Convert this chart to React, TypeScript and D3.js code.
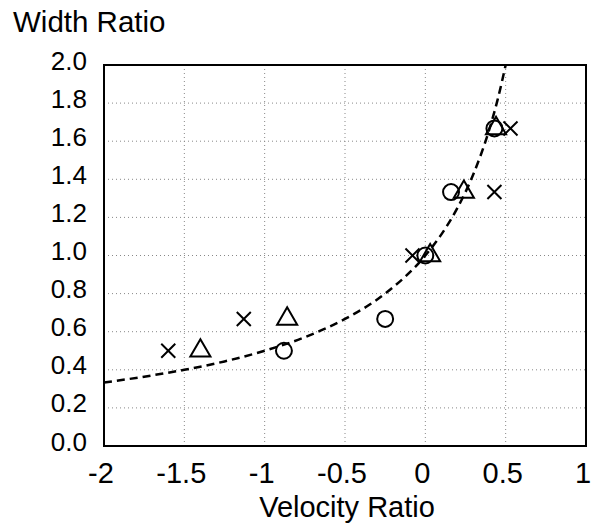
import React, { useEffect, useRef } from 'react';
import * as d3 from 'd3';

const crossX = [-1.6, -1.13, -0.08, 0.43, 0.53];
const crossY = [0.5, 0.667, 1.0, 1.333, 1.667];
const circleX = [-0.88, -0.25, 0.0, 0.16, 0.43];
const circleY = [0.5, 0.667, 1.0, 1.333, 1.667];
const triangleX = [-1.4, -0.86, 0.03, 0.24, 0.44];
const triangleY = [0.5, 0.667, 1.0, 1.333, 1.667];

// dashed fit curve
const curveX = [-2, -1.75, -1.5, -1.25, -1, -0.75, -0.5, -0.25, 0, 0.1, 0.2, 0.3, 0.4, 0.45, 0.5];
const curveY = [0.333, 0.364, 0.4, 0.444, 0.5, 0.571, 0.667, 0.8, 1.0, 1.111, 1.25, 1.429, 1.667, 1.818, 2.0];

const xTicks = [-2, -1.5, -1, -0.5, 0, 0.5, 1];
const yTicks = [0, 0.2, 0.4, 0.6, 0.8, 1.0, 1.2, 1.4, 1.6, 1.8, 2.0];

const W = 593;
const H = 526;

const App = () => {
    const svgRef = useRef<SVGSVGElement>(null);

    useEffect(() => {
        const svg = d3.select(svgRef.current);
        svg.selectAll('*').remove();

        const margin = { top: 65, right: 7, bottom: 80, left: 104 };
        const x = d3.scaleLinear().domain([-2, 1]).range([margin.left, W - margin.right]);
        const y = d3.scaleLinear().domain([0, 2]).range([H - margin.bottom, margin.top]);
        const font = 'Liberation Sans, Arial, sans-serif';

        // grid
        const grid = svg.append('g').attr('stroke', '#888').attr('stroke-width', 1).attr('stroke-dasharray', '1,3');
        grid.selectAll('.gx')
            .data(xTicks.slice(1, -1))
            .enter()
            .append('line')
            .attr('x1', d => x(d)).attr('x2', d => x(d))
            .attr('y1', y(0)).attr('y2', y(2));
        grid.selectAll('.gy')
            .data(yTicks.slice(1, -1))
            .enter()
            .append('line')
            .attr('y1', d => y(d)).attr('y2', d => y(d))
            .attr('x1', x(-2)).attr('x2', x(1));

        // fit curve
        const pts = curveX.map((v, i) => [v, curveY[i]] as [number, number]);
        const line = d3.line<[number, number]>()
            .x(d => x(d[0]))
            .y(d => y(d[1]))
            .curve(d3.curveMonotoneX);
        svg.append('path')
            .attr('d', line(pts))
            .attr('fill', 'none')
            .attr('stroke', '#000')
            .attr('stroke-width', 2.5)
            .attr('stroke-dasharray', '8,5');

        // markers
        const drawSet = (xs: number[], ys: number[], type: d3.SymbolType, size: number) => {
            svg.append('g')
                .selectAll('path')
                .data(xs.map((v, i) => [v, ys[i]]))
                .enter()
                .append('path')
                .attr('transform', d => `translate(${x(d[0])},${y(d[1])})`)
                .attr('d', d3.symbol().type(type).size(size)())
                .attr('fill', 'none')
                .attr('stroke', '#000')
                .attr('stroke-width', 2);
        };
        drawSet(circleX, circleY, d3.symbolCircle, 200);
        drawSet(triangleX, triangleY, d3.symbolTriangle, 175);
        drawSet(crossX, crossY, d3.symbolTimes, 130);

        // frame
        svg.append('rect')
            .attr('x', x(-2)).attr('y', y(2))
            .attr('width', x(1) - x(-2)).attr('height', y(0) - y(2))
            .attr('fill', 'none')
            .attr('stroke', '#000')
            .attr('stroke-width', 2);

        // tick labels
        svg.append('g')
            .selectAll('text')
            .data(xTicks)
            .enter()
            .append('text')
            .attr('x', d => x(d) - 3)
            .attr('y', 483)
            .attr('text-anchor', 'middle')
            .attr('font-family', font)
            .attr('font-size', 29)
            .text(d => String(d));

        svg.append('g')
            .selectAll('text')
            .data(yTicks)
            .enter()
            .append('text')
            .attr('x', x(-2) - 17)
            .attr('y', d => y(d) + 4.5)
            .attr('text-anchor', 'end')
            .attr('font-family', font)
            .attr('font-size', 26)
            .text(d => d.toFixed(1));

        // axis titles
        svg.append('text')
            .attr('x', (x(-2) + x(1)) / 2 + 2)
            .attr('y', 517)
            .attr('text-anchor', 'middle')
            .attr('font-family', font)
            .attr('font-size', 29)
            .text('Velocity Ratio');

        svg.append('text')
            .attr('x', 13)
            .attr('y', 32)
            .attr('font-family', font)
            .attr('font-size', 29.5)
            .text('Width Ratio');
    }, []);

    return (
        <div style={{ position: 'absolute', left: 0, top: 0 }}>
            <svg ref={svgRef} width={W} height={H} style={{ display: 'block', background: '#fff' }}></svg>
        </div>
    );
};

export default App;
